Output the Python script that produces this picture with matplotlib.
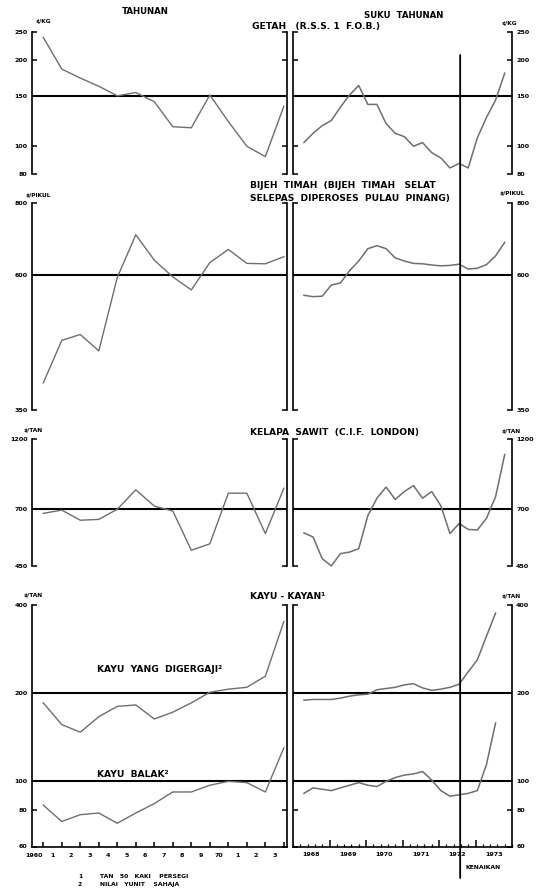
import numpy as np
import matplotlib
matplotlib.use("Agg")
import matplotlib.pyplot as plt
from matplotlib.ticker import NullLocator, MultipleLocator
from matplotlib.patches import ConnectionPatch

plt.rcParams['font.family'] = ['DejaVu Sans']
plt.rcParams['font.weight'] = 'bold'

W, H = 538, 888

# --- data ---
years = np.arange(1960, 1974)
year_labels = ['1960', '1', '2', '3', '4', '5', '6', '7', '8', '9', '70', '1', '2', '3']

# quarters 1968 Q2 .. 1973 Q4
q_year = [1968] * 3 + [1969] * 4 + [1970] * 4 + [1971] * 4 + [1972] * 4 + [1973] * 4
q_num = [2, 3, 4] + [1, 2, 3, 4] * 5
q_years = [1968, 1969, 1970, 1971, 1972, 1973]

getah_a = [240, 186, 173, 162, 150, 154, 143, 117, 116, 151, 122, 100, 92, 138]
getah_q = [103, 111, 118, 123, 137, 151, 163, 140, 140, 120, 111, 108,
           100, 103, 95, 91, 84, 87, 84, 107, 126, 145, 180]

tin_a = [390, 462, 473, 443, 594, 704, 636, 595, 565, 630, 664, 628, 627, 645]
tin_q = [553, 550, 551, 576, 581, 610, 634, 666, 674, 666, 642, 634,
         628, 627, 624, 622, 623, 626, 614, 616, 625, 647, 683]

palm_a = [678, 695, 643, 647, 700, 813, 717, 690, 510, 536, 792, 792, 580, 823]
palm_q = [583, 565, 478, 452, 497, 503, 516, 666, 762, 830, 755, 802,
          840, 762, 802, 719, 580, 627, 599, 596, 652, 771, 1067]

# timber: quarterly runs to 1973 Q3
sawn_a = [185, 156, 147, 166, 180, 182, 163, 172, 185, 201, 206, 209, 228, 350]
sawn_q = [189, 190, 190, 190, 192, 195, 197, 198, 205, 207, 209, 213,
          215, 208, 204, 206, 209, 214, 236, 259, 312, 374]
logs_a = [83, 73, 77, 78, 72, 78, 84, 92, 92, 97, 100, 99, 92, 130]
logs_q = [91, 95, 94, 93, 95, 97, 99, 97, 96, 100, 103, 105,
          106, 108, 101, 93, 89, 90, 91, 93, 114, 158]

qx = np.array(q_year) + (np.array(q_num) - 1) / 4 + 0.05

panels = [
    dict(ylim=(80, 250), ticks=[80, 100, 150, 200, 250], refs=[150],
         annual=[getah_a], quarterly=[getah_q], unit='¢/KG'),
    dict(ylim=(350, 800), ticks=[350, 600, 800], refs=[600],
         annual=[tin_a], quarterly=[tin_q], unit='$/PIKUL'),
    dict(ylim=(450, 1200), ticks=[450, 700, 1200], refs=[700],
         annual=[palm_a], quarterly=[palm_q], unit='$/TAN'),
    dict(ylim=(60, 400), ticks=[60, 80, 100, 200, 400], refs=[200, 100],
         annual=[sawn_a, logs_a], quarterly=[sawn_q, logs_q], unit='$/TAN'),
]

rows_px = [(32.3, 174), (202.7, 410), (439.3, 566.5), (604.5, 846.5)]
line_col = '#6e6e6e'


def rect(x0, y0, x1, y1):
    return [x0 / W, 1 - y1 / H, (x1 - x0) / W, (y1 - y0) / H]


def ftext(x, y, s, size=6.3, ha='left', va='center'):
    fig.text(x / W, 1 - y / H, s, fontsize=size, ha=ha, va=va, fontweight='bold')


fig = plt.figure(figsize=(W / 100, H / 100), dpi=100)

axes_L, axes_R = [], []
for i, (p, (top, bot)) in enumerate(zip(panels, rows_px)):
    axL = fig.add_axes(rect(32, top, 287, bot))
    axR = fig.add_axes(rect(293, top, 512, bot))
    last = i == len(panels) - 1
    for ax, left_side in ((axL, True), (axR, False)):
        ax.set_yscale('log')
        ax.set_ylim(*p['ylim'])
        ax.set_yticks(p['ticks'], [str(t) for t in p['ticks']])
        ax.yaxis.set_minor_locator(NullLocator())
        ax.tick_params(axis='y', which='major', direction='in', length=3.5, width=1.1,
                       left=True, right=True, labelleft=left_side,
                       labelright=not left_side, labelsize=4.6, pad=3)
        ax.spines['top'].set_visible(False)
        ax.spines['bottom'].set_visible(last)
        for s in ax.spines.values():
            s.set_linewidth(1.2)
        for r in p['refs']:
            ax.axhline(r, color='black', lw=1.5, zorder=1)
        ax.patch.set_alpha(0)
        if not last:
            ax.set_xticks([])
    axL.set_xlim(1959.39, 1973.17)
    axR.set_xlim(1968.0, 1974.0)
    for ser in p['annual']:
        axL.plot(years, ser, color=line_col, lw=1.0, zorder=2)
    for ser in p['quarterly']:
        axR.plot(qx[:len(ser)], ser, color=line_col, lw=1.1, zorder=2)
    axes_L.append(axL)
    axes_R.append(axR)

# bottom x axes
axL = axes_L[-1]
axL.set_xticks(years, [''] * len(years))
axL.set_xticks(years - 0.5, year_labels, minor=True)
axL.tick_params(axis='x', which='major', direction='in', length=3.5, width=1.1)
axL.tick_params(axis='x', which='minor', length=0, labelsize=4.6, pad=5)

axR = axes_R[-1]
axR.set_xticks(q_years[1:], [''] * 5)
axR.xaxis.set_minor_locator(MultipleLocator(0.2))
axR.tick_params(axis='x', which='major', direction='in', length=5, width=1.1)
axR.tick_params(axis='x', which='minor', direction='in', length=2.5, width=0.9)
for y in q_years:
    axR.text(y + 0.5, -0.035, str(y), transform=axR.get_xaxis_transform(),
             ha='center', va='center', fontsize=4.6, fontweight='bold')
axR.text(1973.2, -0.085, 'KENAIKAN', transform=axR.get_xaxis_transform(),
         ha='center', va='center', fontsize=4.4, fontweight='bold')

# vertical marker line through the quarterly panels
con = ConnectionPatch(xyA=(1972.58, 0.84), coordsA=axes_R[0].get_xaxis_transform(),
                      xyB=(1972.58, -0.13), coordsB=axes_R[-1].get_xaxis_transform(),
                      color='black', lw=1.3)
fig.add_artist(con)

# titles and labels
ftext(145, 12, 'TAHUNAN', 6.2, ha='center')
ftext(404, 15, 'SUKU  TAHUNAN', 6.2, ha='center')
ftext(252, 27, 'GETAH   (R.S.S. 1  F.O.B.)', 6.6)
ftext(250, 186, 'BIJEH  TIMAH  (BIJEH  TIMAH   SELAT', 6.6)
ftext(250, 198, 'SELEPAS  DIPEROSES  PULAU  PINANG)', 6.6)
ftext(250, 433, 'KELAPA  SAWIT  (C.I.F.  LONDON)', 6.6)
ftext(250, 596, 'KAYU - KAYAN¹', 6.6)
ftext(97, 670, 'KAYU  YANG  DIGERGAJI²', 6.6)
ftext(97, 774, 'KAYU  BALAK²', 6.6)

unit_pos = [((36, 22), (502, 23)), ((26, 195), (500, 193)),
            ((24, 430), (502, 431)), ((24, 595), (502, 596))]
for p, ((xl, yl), (xr, yr)) in zip(panels, unit_pos):
    ftext(xl, yl, p['unit'], 4.2)
    ftext(xr, yr, p['unit'], 4.2)

ftext(80, 876, '1', 4.4, ha='center')
ftext(100, 876, 'TAN   50   KAKI    PERSEGI', 4.4)
ftext(80, 884, '2', 4.4, ha='center')
ftext(100, 884, 'NILAI   YUNIT    SAHAJA', 4.4)

fig.savefig('out.png', dpi=100)
